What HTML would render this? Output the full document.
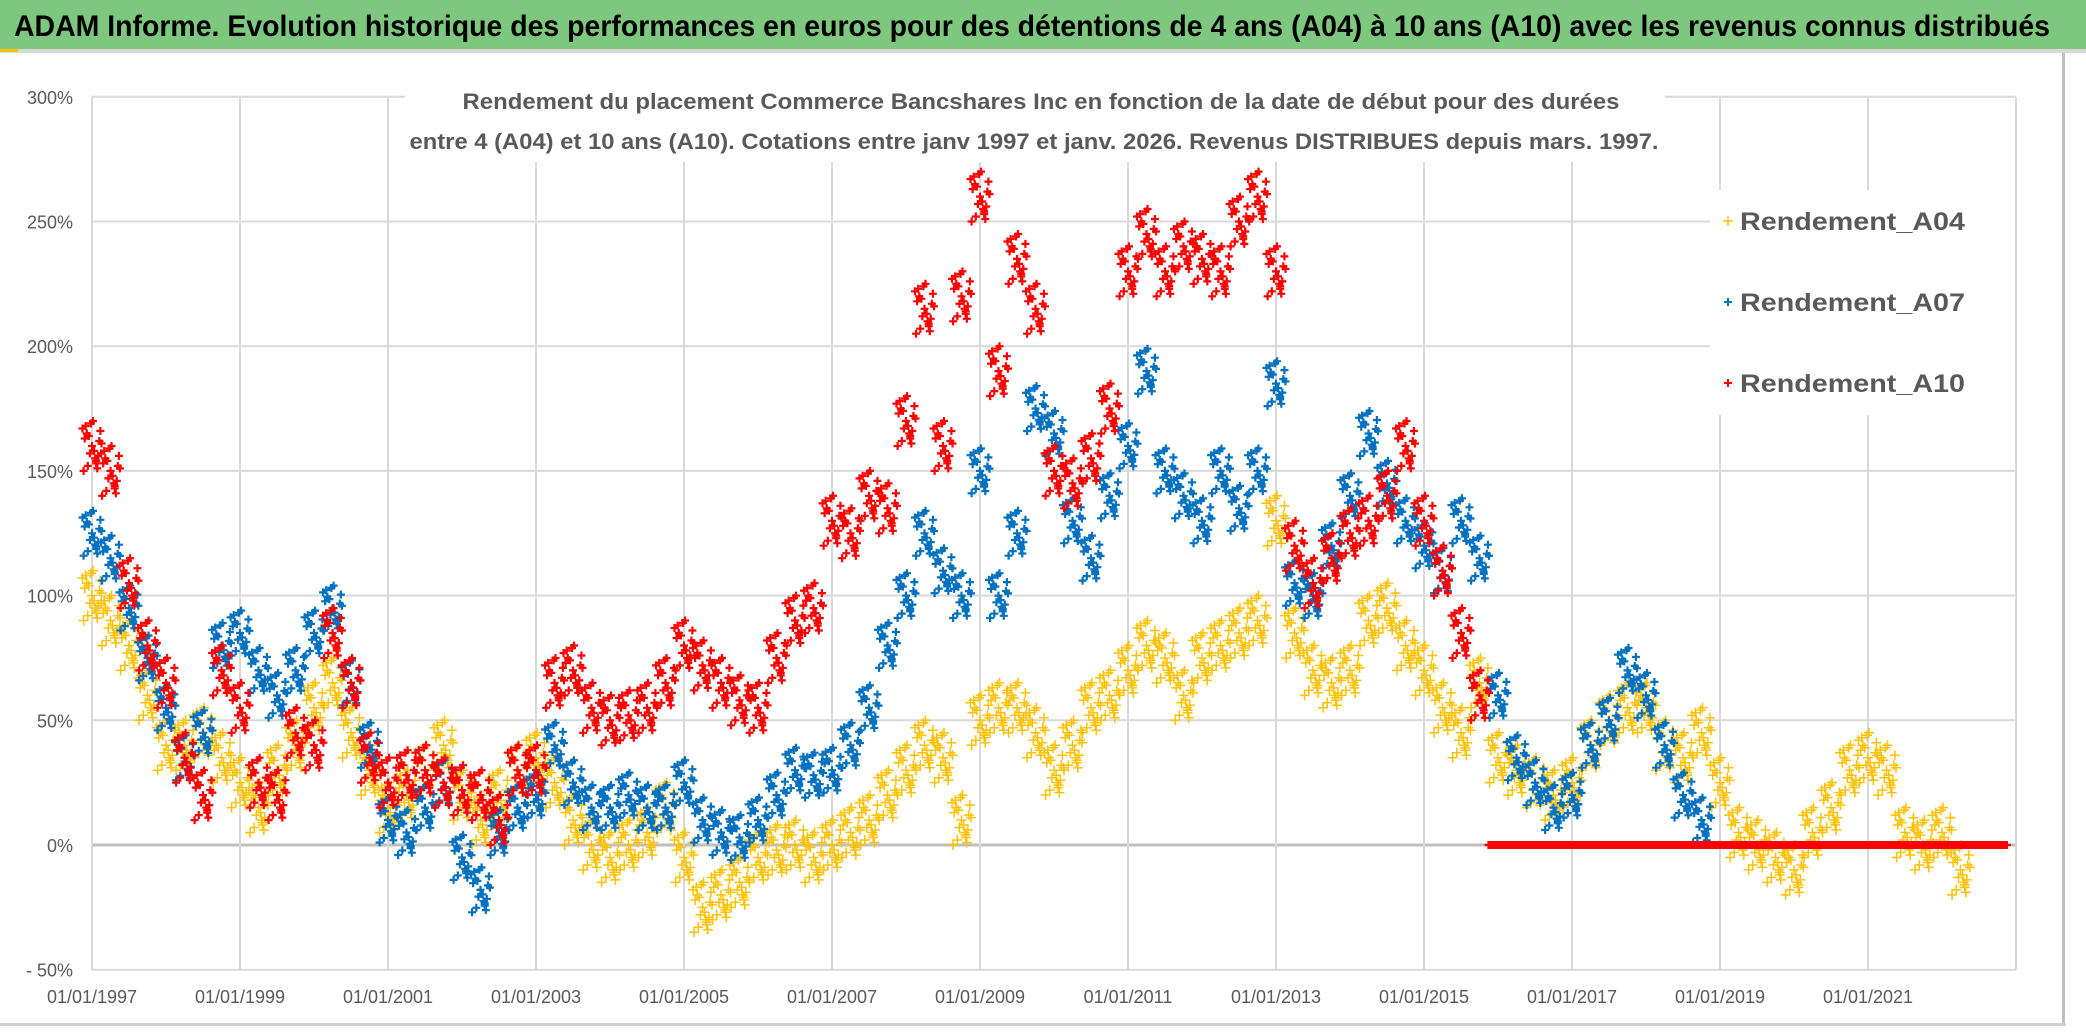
<!DOCTYPE html>
<html><head><meta charset="utf-8"><style>
html,body{margin:0;padding:0;background:#fff;}
svg{display:block;font-family:"Liberation Sans",sans-serif;}
</style></head><body>
<svg id="chart" width="2086" height="1032" viewBox="0 0 2086 1032" xmlns="http://www.w3.org/2000/svg">
<rect x="0" y="0" width="2086" height="1032" fill="#ffffff"/>
<rect x="0" y="0" width="2086" height="49" fill="#7DC87E"/>
<rect x="0" y="49" width="2086" height="4" fill="#d9d9d9"/>
<rect x="0" y="49" width="18" height="3" fill="#FFC000"/>
<rect x="2062" y="53" width="3" height="972" fill="#bfbfbf"/>
<rect x="0" y="1023" width="2066" height="3" fill="#d0d0d0"/>
<text x="14" y="36" font-size="30" font-weight="bold" fill="#000" textLength="2036" lengthAdjust="spacingAndGlyphs">ADAM Informe. Evolution historique des performances en euros pour des détentions de 4 ans (A04) à 10 ans (A10) avec les revenus connus distribués</text>
<g id="grid"></g>
<g id="ylabels"></g>
<g id="xlabels"></g>
<rect x="405" y="82" width="1260" height="80" fill="#fff"/>
<text x="1041" y="109" font-size="22" font-weight="bold" fill="#595959" text-anchor="middle" textLength="1157" lengthAdjust="spacingAndGlyphs">Rendement du placement Commerce Bancshares Inc en fonction de la date de début pour des durées</text>
<text x="1034" y="149" font-size="22" font-weight="bold" fill="#595959" text-anchor="middle" textLength="1249" lengthAdjust="spacingAndGlyphs">entre 4 (A04) et 10 ans (A10). Cotations entre janv 1997 et janv. 2026. Revenus DISTRIBUES depuis mars. 1997.</text>
<g id="marks"></g>
<rect x="1710" y="190" width="305" height="225" fill="#fff"/>
<g><path d="M1723 221h10M1728 216v10" stroke="#FFC000" stroke-width="1.5"/><text x="1740" y="230" font-size="25" fill="#595959" font-weight="bold" textLength="225" lengthAdjust="spacingAndGlyphs">Rendement_A04</text></g>
<g><path d="M1724 302h8M1728 298v8" stroke="#0070C0" stroke-width="2"/><text x="1740" y="311" font-size="25" fill="#595959" font-weight="bold" textLength="225" lengthAdjust="spacingAndGlyphs">Rendement_A07</text></g>
<g><path d="M1724 383h8M1728 379v8" stroke="#FF0000" stroke-width="2"/><text x="1740" y="392" font-size="25" fill="#595959" font-weight="bold" textLength="225" lengthAdjust="spacingAndGlyphs">Rendement_A10</text></g>
</svg>
<script>
const yTicks=[-50,0,50,100,150,200,250,300];
const yTickLabels=["- 50%","0%","50%","100%","150%","200%","250%","300%"];
const xTickYears=[1997,1999,2001,2003,2005,2007,2009,2011,2013,2015,2017,2019,2021];
const xTickLabels=["01/01/1997","01/01/1999","01/01/2001","01/01/2003","01/01/2005","01/01/2007","01/01/2009","01/01/2011","01/01/2013","01/01/2015","01/01/2017","01/01/2019","01/01/2021"];
const startYear=1997;
const stepYears=0.25;
const a04=[100,90,80,60,40,40,45,35,25,15,30,40,55,65,45,30,15,20,30,40,20,10,20,30,35,25,10,0,-5,0,5,15,-5,-25,-20,-15,-5,-2,0,-5,0,5,10,20,30,40,35,10,50,55,55,45,30,40,55,60,70,80,75,60,75,80,85,90,130,85,70,65,70,90,95,80,70,55,45,65,35,30,25,20,25,40,50,55,55,40,35,45,25,5,0,-5,-10,5,15,30,35,30,5,0,5,-10];
const a07=[125,115,95,75,55,35,45,80,85,70,60,70,85,95,65,40,10,5,15,25,-5,-18,5,15,20,40,25,15,15,20,15,15,25,10,5,3,10,20,30,28,30,40,55,80,100,125,110,100,150,100,125,175,165,130,115,140,160,190,150,140,130,150,135,150,185,105,100,120,140,165,145,130,120,110,130,115,60,35,25,15,20,40,50,70,60,40,20,10];
const a10=[160,150,105,80,65,35,20,70,55,25,20,45,40,85,65,35,25,28,30,25,22,20,10,30,30,65,70,55,50,52,55,65,80,72,65,58,55,75,90,95,130,125,140,135,170,215,160,220,260,190,235,215,150,145,155,175,230,245,230,240,235,230,250,260,230,120,105,115,125,130,140,160,130,110,85,60,0,0,0,0,0,0,0,0,0,0,0,0,0,0,0,0,0,0,0,0,0,0,0,0,0,0,0,0];
const X0=92,PX_PER_YEAR=74,Y0=845,PX_PER_PCT=2.494,PLOT_TOP=97,PLOT_BOTTOM=970,PLOT_RIGHT=2016;
const xs=y=>X0+(y-startYear)*PX_PER_YEAR;
const ys=v=>Y0-v*PX_PER_PCT;
const NS="http://www.w3.org/2000/svg";
function mk(tag,attrs,parent){const e=document.createElementNS(NS,tag);for(const k in attrs)e.setAttribute(k,attrs[k]);parent.appendChild(e);return e;}
const grid=document.getElementById('grid');
yTicks.forEach((t,i)=>{
  const l=mk('line',{x1:X0,x2:PLOT_RIGHT,y1:ys(t),y2:ys(t),stroke:t===0?'#bfbfbf':'#d9d9d9','stroke-width':t===0?3:2},grid);
  
  
  const tx=mk('text',{x:73,y:ys(t)+7,'font-size':18,fill:'#595959','text-anchor':'end'},document.getElementById('ylabels'));
  tx.textContent=yTickLabels[i];
  
  
});
xTickYears.forEach((yr,i)=>{
  const l=mk('line',{x1:xs(yr),x2:xs(yr),y1:PLOT_TOP,y2:PLOT_BOTTOM,stroke:'#d9d9d9','stroke-width':2},grid);
  
  
  const tx=mk('text',{x:xs(yr),y:1003,'font-size':18,fill:'#595959','text-anchor':'middle'},document.getElementById('xlabels'));
  tx.textContent=xTickLabels[i];
  
  
});
const rl=mk('line',{x1:PLOT_RIGHT,x2:PLOT_RIGHT,y1:PLOT_TOP,y2:PLOT_BOTTOM,stroke:'#d9d9d9','stroke-width':2},grid);


const marks=document.getElementById('marks');
const offX=[-8,-5,-2,1,4,7,-6,5,0,-3,3,8,-7,-4,-1,2,6,9,-9,4];
const offY=[-1,0.5,-0.3,1,-0.7,0.2,0.8,-0.9,0,0.4,-0.5,0.6,0.3,-0.8,0.9,-0.2,-0.4,0.1,0.7,-0.6];
function drawSeries(arr,color,spread,sw,size,name){
  const g=mk('g',{stroke:color,'stroke-width':sw,fill:'none'},marks);
  
  
  let d='';
  arr.forEach((v,i)=>{
    const cx=xs(startYear+i*stepYears);
    for(let k=0;k<offX.length;k++){
      const x=cx+offX[k]*1.05;
      if(x>PLOT_RIGHT) continue;
      const y=ys(v+(v===0&&name==='series-a10'?0:offY[k]*spread));
      d+=`M${(x-size).toFixed(1)} ${y.toFixed(1)}h${2*size}M${x.toFixed(1)} ${(y-size).toFixed(1)}v${2*size}`;
    }
  });
  const p=mk('path',{d:d},g);
  
  
}
drawSeries(a04,'#FFC000',10,1.5,5,'series-a04');
drawSeries(a07,'#0070C0',9,2.2,4,'series-a07');
drawSeries(a10,'#FF0000',10,2.2,4,'series-a10');
</script>
</body></html>
